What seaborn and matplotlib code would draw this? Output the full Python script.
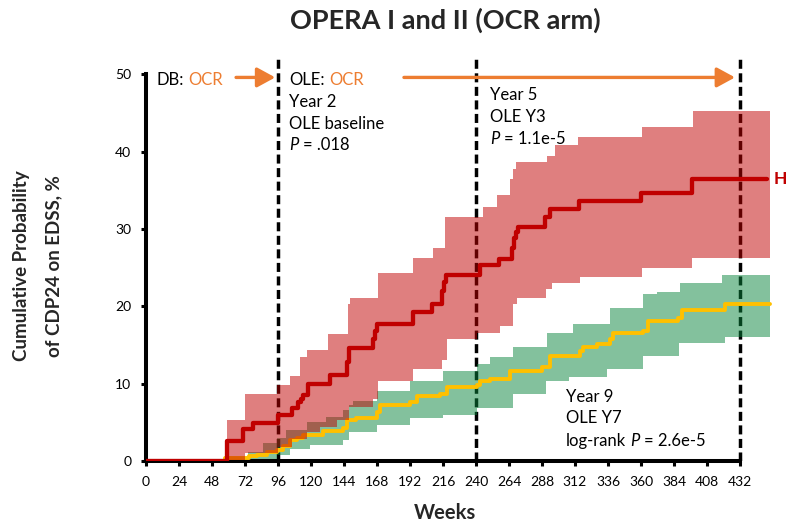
import numpy as np
import matplotlib
matplotlib.use("Agg")
import matplotlib.pyplot as plt
import seaborn as sns

# ---------------- data ----------------
x_ticks = [0, 24, 48, 72, 96, 120, 144, 168, 192, 216, 240, 264, 288, 312, 336, 360, 384, 408, 432]
y_ticks = [0, 10, 20, 30, 40, 50]
milestones = [96, 240, 432]

red_wk = [0, 58.7, 70.8, 78, 96.2, 106.4, 110.8, 112.5, 114, 118, 133.8, 146, 147.5, 165, 166.5, 168,
          194.4, 207.8, 215.5, 217, 218.5, 243, 256.5, 266, 267.5, 269, 270.8, 290, 294, 315, 360, 397.3, 452]
red_pct = [0, 2.6, 4.1, 4.85, 6.0, 6.85, 7.6, 8.0, 8.5, 9.9, 11.1, 12.8, 14.6, 15.8, 16.8, 17.7,
           19.3, 20.3, 22.0, 23.2, 24.0, 25.4, 26.1, 27.5, 28.8, 29.6, 30.3, 31.6, 32.6, 33.6, 34.6, 36.5, 36.5]

red_hi_wk = [58.6, 72, 95, 104.7, 112, 117, 132.6, 147, 148.5, 169, 194.4, 208.5, 217.5, 245, 255,
             264.7, 267, 269, 291.4, 297.5, 314.4, 360.5, 398, 454]
red_hi_pct = [5.3, 8.6, 9.8, 11.05, 13.4, 14.3, 16.4, 20.3, 21.1, 24.3, 26.3, 27.5, 31.6, 32.9, 34.4,
              36.5, 37.8, 38.6, 39.5, 40.8, 41.9, 43.2, 45.2, 45.2]

red_lo_wk = [58.6, 72, 96, 106, 117, 126.5, 138.7, 148, 165, 169, 194, 215, 218.7, 240.5, 257.5,
             267, 269.6, 291, 295, 315.6, 360.5, 397.3, 454]
red_lo_pct = [0.1, 1.0, 1.8, 2.9, 3.8, 4.4, 5.3, 7.0, 8.05, 10.4, 11.9, 13.0, 15.8, 16.6, 17.5,
              20.3, 21.1, 22.2, 23.0, 23.8, 25.0, 26.3, 26.3]

yel_wk = [0, 57.5, 69.6, 75, 80.5, 88, 95, 100, 104.7, 110, 114.4, 129, 143.5, 146, 153, 167.8, 170,
          192, 197, 213.8, 218.7, 240.5, 243, 250, 264.7, 287.8, 293.8, 315.6, 318, 327.8, 337.5,
          339.9, 361.7, 365.3, 387.1, 390, 421, 454]
yel_pct = [0, 0.35, 0.35, 0.6, 0.8, 1.1, 1.4, 2.0, 2.7, 3.0, 3.3, 3.9, 4.3, 5.3, 5.5, 6.3, 7.2,
           7.6, 8.35, 8.7, 9.6, 9.8, 10.4, 10.6, 11.7, 12.1, 13.6, 14.2, 14.8, 15.1, 15.8,
           16.6, 16.75, 18.1, 18.5, 19.5, 20.3, 20.3]

grn_hi_wk = [70, 74.4, 85.3, 95, 102, 117, 131, 143.5, 148, 150.8, 167.8, 192, 216, 240.5, 250, 267,
             291.4, 310.8, 337.5, 361.7, 371.4, 388.4, 418.7, 454]
grn_hi_pct = [0.5, 1.2, 2.3, 3.0, 4.0, 5.05, 5.7, 6.55, 7.2, 7.8, 9.1, 10.4, 11.7, 12.55, 13.4, 14.7,
              16.6, 17.7, 19.8, 21.6, 21.8, 23.0, 24.1, 24.1]

grn_lo_wk = [70, 95, 104.7, 119, 143.5, 148, 167.8, 192, 216, 240.5, 267, 291, 308, 335, 361.7, 388, 421, 454]
grn_lo_pct = [0, 0.8, 1.6, 2.05, 2.7, 3.8, 4.6, 5.5, 5.9, 6.8, 8.7, 10.4, 10.8, 11.9, 13.6, 15.3, 16.0, 16.0]

title = "OPERA I and II (OCR arm)"
x_label = "Weeks"
y_label_1 = "Cumulative Probability"
y_label_2 = "of CDP24 on EDSS, %"

# ---------------- style ----------------
sns.set_theme(style="ticks")
plt.rcParams["font.family"] = ["Lato", "DejaVu Sans"]

RED = "#C00000"
YEL = "#FFC000"
ORANGE = "#ED7D31"
GREEN = "#09853D"

fig = plt.figure(figsize=(7.88, 5.24), dpi=100)
ax = fig.add_axes([146 / 788, 63 / 524, 625.6 / 788, 406 / 524])
ax.set_xlim(0, 455)
ax.set_ylim(0, 52.5)


def step_xy(x, y):
    xs, ys = [], []
    for i in range(len(x)):
        if i > 0:
            xs.append(x[i])
            ys.append(y[i - 1])
        xs.append(x[i])
        ys.append(y[i])
    return np.array(xs), np.array(ys)


def band(x_hi, y_hi, x_lo, y_lo, color, alpha, z):
    ux, uy = step_xy(x_hi, y_hi)
    lx, ly = step_xy(x_lo, y_lo)
    ax.fill(np.concatenate([ux, lx[::-1]]), np.concatenate([uy, ly[::-1]]),
            facecolor=color, alpha=alpha, lw=0, zorder=z)


# milestone dashed lines
ax.vlines(milestones, 0, 52, colors="black", lw=2.5, linestyles=(0, (2.6, 1.3)), zorder=1)

band(grn_hi_wk, grn_hi_pct, grn_lo_wk, grn_lo_pct, GREEN, 0.5, 2)
sns.lineplot(x=yel_wk, y=yel_pct, ax=ax, color=YEL, lw=2.8, drawstyle="steps-post",
             estimator=None, zorder=3)
band(red_hi_wk, red_hi_pct, red_lo_wk, red_lo_pct, RED, 0.5, 4)
sns.lineplot(x=red_wk, y=red_pct, ax=ax, color=RED, lw=3.1, drawstyle="steps-post",
             estimator=None, zorder=5)

# axes styling
for s in ["top", "right"]:
    ax.spines[s].set_visible(False)
for s in ["left", "bottom"]:
    ax.spines[s].set_linewidth(2.9)
    ax.spines[s].set_color("black")
ax.spines["left"].set_bounds(0, 50)
ax.spines["bottom"].set_bounds(0, 432)
ax.set_xticks(x_ticks)
ax.set_yticks(y_ticks)
ax.tick_params(axis="both", direction="out", length=3.5, width=2.2, color="black",
               labelsize=10, labelcolor="black")
ax.tick_params(axis="x", pad=7.5)
ax.tick_params(axis="y", pad=7)
ax.set_xlabel("")
ax.set_ylabel("")

# titles and axis labels
fig.text(445 / 788, 1 - 20.5 / 524, title, ha="center", va="center", fontsize=19.5, fontweight="bold")
fig.text(445 / 788, 1 - 513 / 524, x_label, ha="center", va="center", fontsize=14.5, fontweight="bold")
fig.text(22 / 788, 1 - 266 / 524, y_label_1, ha="center", va="center", rotation=90,
         fontsize=13.5, fontweight="bold")
fig.text(54 / 788, 1 - 266 / 524, y_label_2, ha="center", va="center", rotation=90,
         fontsize=13.5, fontweight="bold")


def rich(x, y, parts, size=12):
    t = ax.text(x, y, parts[0][0], color=parts[0][1], fontstyle=parts[0][2],
                fontsize=size, ha="left", va="center", zorder=6)
    prev = t
    for s, c, st, gap in parts[1:]:
        prev = ax.annotate(s, xy=(1, 0), xycoords=prev, xytext=(gap, 0), textcoords="offset points",
                           color=c, fontstyle=st, fontsize=size, ha="left", va="bottom", zorder=6)


rich(7.8, 49.3, [("DB:", "black", "normal"), ("OCR", ORANGE, "normal", 3.2)])
rich(104.2, 49.3, [("OLE:", "black", "normal"), ("OCR", ORANGE, "normal", 3.2)])
rich(104.2, 46.4, [("Year 2", "black", "normal")])
rich(104.2, 43.6, [("OLE baseline", "black", "normal")])
rich(104.2, 40.8, [("P", "black", "italic"), ("= .018", "black", "normal", 3.2)])

rich(250, 47.3, [("Year 5", "black", "normal")])
rich(250, 44.5, [("OLE Y3", "black", "normal")])
rich(250, 41.7, [("P", "black", "italic"), ("= 1.1e-5", "black", "normal", 3.2)])

rich(305.5, 8.26, [("Year 9", "black", "normal")])
rich(305.5, 5.5, [("OLE Y7", "black", "normal")])
rich(305.5, 2.6, [("log-rank", "black", "normal"), ("P", "black", "italic", 3.2),
                  ("= 2.6e-5", "black", "normal", 3.2)])

# period arrows
arrow_style = dict(arrowstyle="-|>,head_length=0.55,head_width=0.3", color=ORANGE, lw=2.4,
                   mutation_scale=20, shrinkA=0, shrinkB=0)
ax.annotate("", xy=(94, 49.6), xytext=(65.5, 49.6), arrowprops=arrow_style, zorder=6)
ax.annotate("", xy=(428.4, 49.6), xytext=(187.6, 49.6), arrowprops=arrow_style, zorder=6)

# curve label
ax.text(456.5, 36.5, "H", color=RED, fontsize=12.5, fontweight="bold", ha="left", va="center",
        clip_on=False)

fig.savefig("out.png", dpi=100)
